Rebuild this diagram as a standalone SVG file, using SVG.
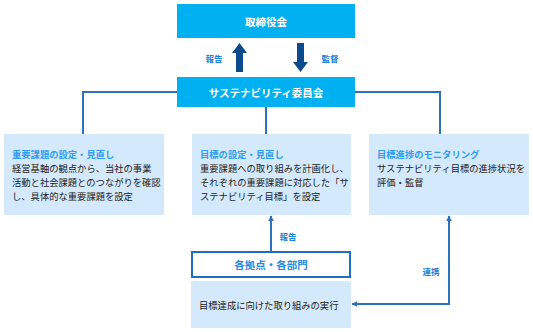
<svg xmlns="http://www.w3.org/2000/svg" width="533" height="332" viewBox="0 0 533 332">
<defs>
<style>
text{font-family:"Noto Sans CJK JP","Noto Sans",sans-serif;}
.hd{fill:#00b0f0;}
.hdt{fill:#fff;font-weight:bold;font-size:10.5px;text-anchor:middle;dominant-baseline:central;}
.lb{fill:#d4e9fc;}
.ttl{fill:#2f9cf0;font-weight:bold;font-size:9.3px;dominant-baseline:central;}
.bd{fill:#222;font-size:9.3px;dominant-baseline:central;}
.lab{fill:#1a7fd6;font-weight:bold;font-size:8.5px;text-anchor:middle;dominant-baseline:central;}
.ln{fill:none;stroke:#2a72c0;stroke-width:2;}
.big{fill:#0b4a8c;}
</style>
<marker id="ah" viewBox="0 0 10 10" refX="9" refY="5" markerWidth="6" markerHeight="6" markerUnits="userSpaceOnUse" orient="auto-start-reverse">
<path d="M0,0 L10,5 L0,10 z" fill="#2a72c0"/>
</marker>
</defs>
<rect width="533" height="332" fill="#fff"/>
<g id="connectors">
<path class="ln" d="M177,92 H83 V134"/>
<path class="ln" d="M355,92 H440 V134"/>
<path class="ln" d="M266,107 V134"/>
<path class="ln" d="M271,251 V216" marker-end="url(#ah)"/>
<path class="ln" d="M449,216 V304 H352" marker-start="url(#ah)" marker-end="url(#ah)"/>
<polygon class="big" points="236,72 243,72 243,53 247,53 239.5,43 232,53 236,53"/>
<polygon class="big" points="297,43 304,43 304,62 308,62 300.5,72 293,62 297,62"/>
<text class="lab" x="214" y="58">報告</text>
<text class="lab" x="330" y="58">監督</text>
<text class="lab" x="288" y="236">報告</text>
<text class="lab" x="431" y="271">連携</text>
</g>
<g id="board">
<rect class="hd" x="177" y="4" width="178" height="34"/>
<text class="hdt" x="266" y="21">取締役会</text>
</g>
<g id="committee">
<rect class="hd" x="177" y="77" width="178" height="30"/>
<text class="hdt" x="266" y="92">サステナビリティ委員会</text>
</g>
<g id="materiality">
<rect class="lb" x="4" y="134" width="160" height="81"/>
<text class="ttl" x="12" y="154">重要課題の設定・見直し</text>
<text class="bd" x="12" y="168">経営基軸の観点から、当社の事業</text>
<text class="bd" x="12" y="182">活動と社会課題とのつながりを確認</text>
<text class="bd" x="12" y="196">し、具体的な重要課題を設定</text>
</g>
<g id="targets">
<rect class="lb" x="192" y="134" width="159" height="81"/>
<text class="ttl" x="200" y="154">目標の設定・見直し</text>
<text class="bd" x="200" y="168">重要課題への取り組みを計画化し、</text>
<text class="bd" x="200" y="182">それぞれの重要課題に対応した「サ</text>
<text class="bd" x="200" y="196">ステナビリティ目標」を設定</text>
</g>
<g id="monitoring">
<rect class="lb" x="369" y="134" width="160" height="81"/>
<text class="ttl" x="377" y="154">目標進捗のモニタリング</text>
<text class="bd" x="377" y="168">サステナビリティ目標の進捗状況を</text>
<text class="bd" x="377" y="182">評価・監督</text>
</g>
<g id="departments">
<rect x="192" y="252" width="158" height="25" fill="#fff" stroke="#1f6fc0" stroke-width="2"/>
<text x="271" y="264.5" fill="#2a8ae0" font-weight="bold" font-size="10.5" text-anchor="middle" dominant-baseline="central">各拠点・各部門</text>
</g>
<g id="execution">
<rect class="lb" x="191" y="281" width="160" height="47"/>
<text class="bd" x="199" y="305">目標達成に向けた取り組みの実行</text>
</g>
</svg>
